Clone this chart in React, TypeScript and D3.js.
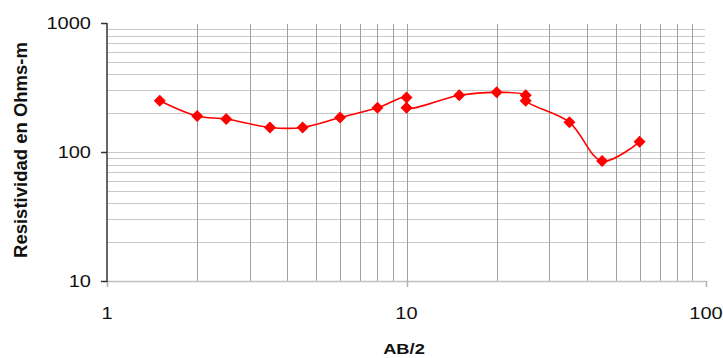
import React, { useEffect, useRef } from "react";
import * as d3 from "d3";

const abHalf = [1.5, 2, 2.5, 3.5, 4.5, 6, 8, 10, 10, 15, 20, 25, 25, 35, 45, 60];
const resistivity = [250, 190, 180, 155, 155, 185, 220, 265, 220, 275, 290, 275, 250, 170, 85, 120];
const xTicks = [1, 10, 100];
const yTicks = [10, 100, 1000];
const xTitle = "AB/2";
const yTitle = "Resistividad en Ohms-m";

export default function App() {
  const ref = useRef<SVGSVGElement>(null);
  useEffect(() => {
    const svg = d3.select(ref.current);
    svg.selectAll("*").remove();
    const left = 107, right = 706, top = 23, bottom = 281;
    const x = d3.scaleLog().domain([1, 100]).range([left, right]);
    const y = d3.scaleLog().domain([10, 1000]).range([bottom, top]);
    const font = "'Liberation Sans', Arial, sans-serif";
    const sx = 1.25;

    const minorX: number[] = [];
    const minorY: number[] = [];
    [1, 10].forEach((d) => { for (let k = 2; k <= 9; k++) minorX.push(d * k); });
    [10, 100].forEach((d) => { for (let k = 2; k <= 9; k++) minorY.push(d * k); });

    const g = svg.append("g");
    g.selectAll(".hy").data([...minorY, 100]).join("line")
      .attr("x1", left).attr("x2", right - 1)
      .attr("y1", (d) => Math.round(y(d)) + 0.5).attr("y2", (d) => Math.round(y(d)) + 0.5)
      .attr("stroke", "#c8c8c8").attr("stroke-width", 1);
    g.selectAll(".vx").data([...minorX, 10]).join("line")
      .attr("y1", top + 1).attr("y2", bottom)
      .attr("x1", (d) => Math.round(x(d)) + 0.5).attr("x2", (d) => Math.round(x(d)) + 0.5)
      .attr("stroke", "#a0a0a0").attr("stroke-width", 1);

    g.append("line").attr("x1", left).attr("x2", right).attr("y1", bottom + 0.5).attr("y2", bottom + 0.5)
      .attr("stroke", "#c0c0c0").attr("stroke-width", 1.5);
    g.selectAll(".xt").data(xTicks).join("line")
      .attr("x1", (d) => Math.round(x(d)) + 0.5).attr("x2", (d) => Math.round(x(d)) + 0.5)
      .attr("y1", bottom).attr("y2", bottom + 6)
      .attr("stroke", "#b0b0b0").attr("stroke-width", 1.5);
    g.append("line").attr("x1", left).attr("x2", left).attr("y1", top).attr("y2", bottom + 1)
      .attr("stroke", "#333").attr("stroke-width", 1.5);
    g.selectAll(".yt").data(yTicks).join("line")
      .attr("x1", left - 6).attr("x2", left)
      .attr("y1", (d) => Math.round(y(d)) + 0.5).attr("y2", (d) => Math.round(y(d)) + 0.5)
      .attr("stroke", "#333").attr("stroke-width", 1.5);

    g.selectAll(".yl").data(yTicks).join("text")
      .attr("transform", (d) => `translate(${left - 16},${y(d)}) scale(${sx},1)`)
      .attr("dy", "0.35em")
      .attr("text-anchor", "end").attr("font-family", font).attr("font-size", 16)
      .attr("fill", "#111").text((d) => String(d));
    g.selectAll(".xl").data(xTicks).join("text")
      .attr("transform", (d) => `translate(${x(d)},313) scale(${sx},1)`)
      .attr("dy", "0.35em")
      .attr("text-anchor", "middle").attr("font-family", font).attr("font-size", 16)
      .attr("fill", "#111").text((d) => String(d));

    g.append("text").attr("transform", `translate(404,349) scale(1.22,1)`).attr("dy", "0.35em")
      .attr("text-anchor", "middle").attr("font-family", font).attr("font-size", 15)
      .attr("font-weight", "bold").attr("fill", "#111").text(xTitle);
    g.append("text").attr("transform", `translate(21,150) rotate(-90)`)
      .attr("dy", "0.35em").attr("text-anchor", "middle").attr("font-family", font)
      .attr("font-size", 18.5).attr("font-weight", "bold").attr("fill", "#111").text(yTitle);

    const pts: [number, number][] = abHalf.map((a, i) => [x(a), y(resistivity[i])]);
    const line = d3.line().curve(d3.curveCatmullRom.alpha(0.5));
    g.append("path").attr("d", line(pts)).attr("fill", "none")
      .attr("stroke", "#ff0000").attr("stroke-width", 1.6);
    g.selectAll(".pt").data(pts).join("path")
      .attr("d", (d) => `M${d[0]},${d[1] - 6}L${d[0] + 6},${d[1]}L${d[0]},${d[1] + 6}L${d[0] - 6},${d[1]}Z`)
      .attr("fill", "#ff0000");
  }, []);
  return (
    <svg ref={ref} width={723} height={358}
      style={{ position: "absolute", left: 0, top: 0, background: "#fff" }} />
  );
}
